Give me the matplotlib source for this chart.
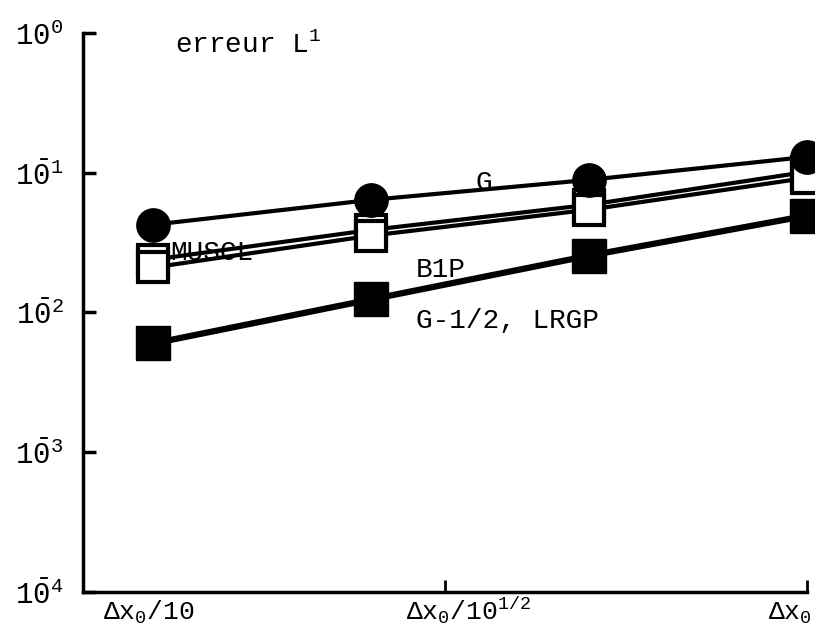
import numpy as np
import matplotlib
matplotlib.use('Agg')
import matplotlib.pyplot as plt
from matplotlib.transforms import blended_transform_factory

plt.rcParams['font.family'] = ['Liberation Mono', 'DejaVu Sans']
plt.rcParams['mathtext.fontset'] = 'custom'
plt.rcParams['mathtext.rm'] = 'Liberation Mono'
plt.rcParams['mathtext.it'] = 'Liberation Mono'

# pas d'espace (en unites de dx0)
h = [1/8, 1/4, 1/2, 1]

# erreurs L1
err_g = [0.0425, 0.064, 0.089, 0.13]
err_muscl = [0.0239, 0.039, 0.059, 0.1016]
err_b1p = [0.0210, 0.0355, 0.0544, 0.092]
err_lrgp = [0.0060, 0.0124, 0.0255, 0.0493]

ytick_vals = [1e0, 1e-1, 1e-2, 1e-3, 1e-4]
ytick_labels = [r'$10^{0}$', r'$1\bar{0}^{1}$', r'$1\bar{0}^{2}$',
                r'$1\bar{0}^{3}$', r'$1\bar{0}^{4}$']
xtick_vals = [0.1, 10 ** -0.5, 1.0]

fig = plt.figure(figsize=(8.15, 6.37), dpi=100)
ax = fig.add_axes([0.102, 0.071, 0.888, 0.877])
ax.set_xscale('log')
ax.set_yscale('log')
ax.set_xlim(0.1, 1.0)
ax.set_ylim(1e-4, 1e0)

lw = 3
ax.plot(h, err_g, '-o', color='black', lw=lw, ms=24, zorder=4, clip_on=False)
ax.plot(h, err_muscl, '-s', color='black', lw=lw, ms=21, mfc='white', mew=3, zorder=3, clip_on=False)
ax.plot(h, err_b1p, '-s', color='black', lw=lw, ms=21, mfc='white', mew=3, zorder=3, clip_on=False)
ax.plot(h, err_lrgp, '-s', color='black', lw=lw + 1.5, ms=24, zorder=3, clip_on=False)

for s in ['top', 'right']:
    ax.spines[s].set_visible(False)
for s in ['left', 'bottom']:
    ax.spines[s].set_linewidth(2.5)

ax.set_yticks(ytick_vals)
ax.set_yticklabels(ytick_labels, fontsize=21)
ax.yaxis.set_minor_locator(plt.NullLocator())
ax.tick_params(axis='y', direction='in', length=9, width=2.5, pad=14)
ax.set_xticks(xtick_vals)
ax.set_xticklabels([])
ax.xaxis.set_minor_locator(plt.NullLocator())
ax.tick_params(axis='x', direction='in', length=9, width=2)

trans = blended_transform_factory(ax.transData, ax.transAxes)
ax.text(0.123, -0.05, r'$\Delta x_{0}/10$', transform=trans, ha='center', va='baseline', fontsize=19)
ax.text(0.341, -0.05, r'$\Delta x_{0}/10^{1/2}$', transform=trans, ha='center', va='baseline', fontsize=19)
ax.text(0.885, -0.05, r'$\Delta x_{0}$', transform=trans, ha='left', va='baseline', fontsize=19, clip_on=False)

ax.text(0.134, 0.82, 'erreur L$^{1}$', fontsize=20, ha='left', va='center')
ax.text(0.348, 0.0849, 'G', fontsize=20, ha='left', va='center')
ax.text(0.132, 0.0268, 'MUSCL', fontsize=20, ha='left', va='center', zorder=2)
ax.text(0.288, 0.0203, 'B1P', fontsize=20, ha='left', va='center')
ax.text(0.288, 0.00862, 'G-1/2, LRGP', fontsize=20, ha='left', va='center')

fig.savefig('out.png', dpi=100)
